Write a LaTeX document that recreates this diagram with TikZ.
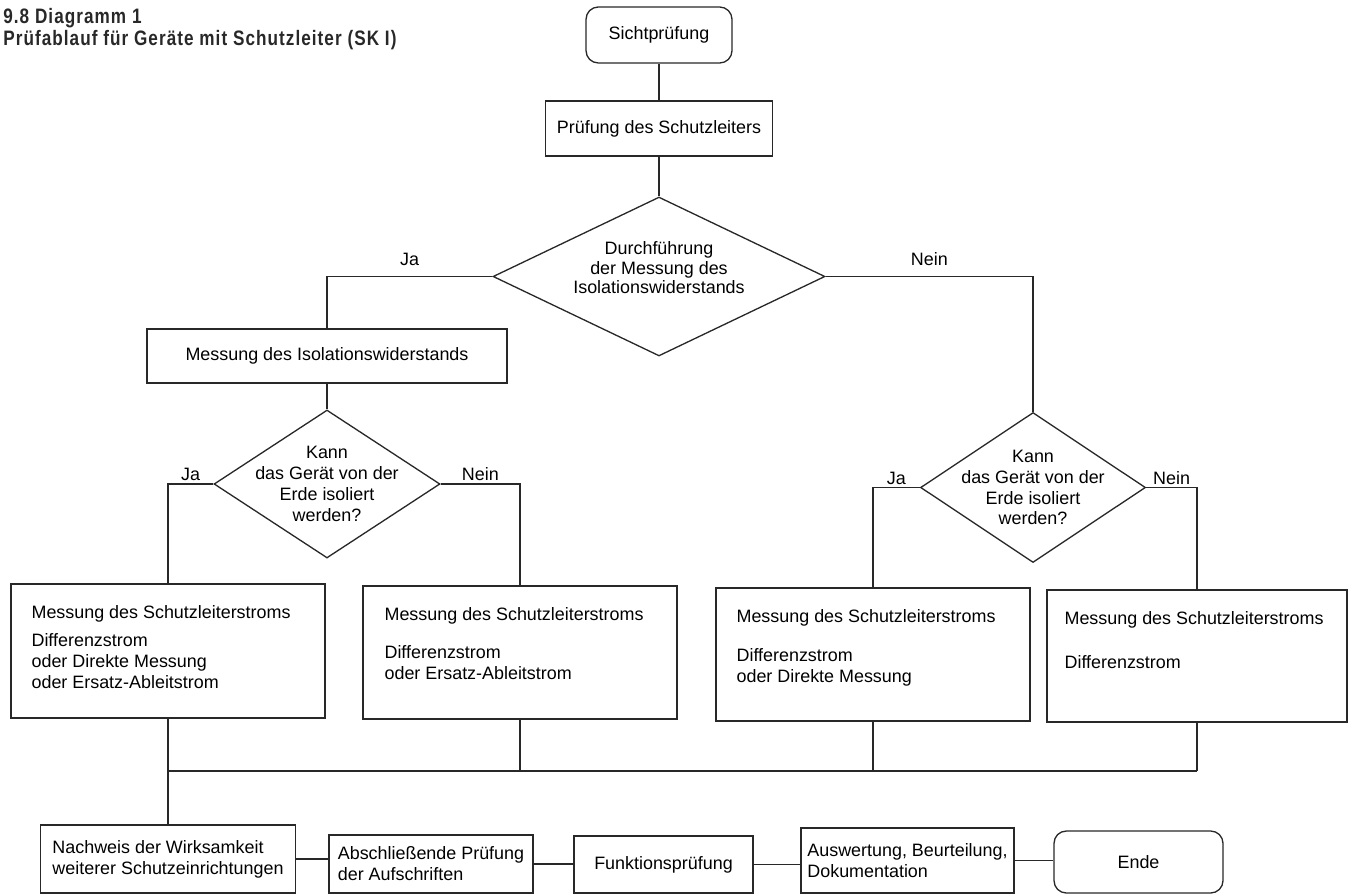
\documentclass[tikz,border=0pt]{standalone}
\usepackage{fontspec}
\setmainfont{Liberation Sans}
\newfontfamily\titlefont[FakeStretch=0.82, LetterSpace=5]{Liberation Sans}
\usetikzlibrary{shapes.geometric}

\begin{document}
\begin{tikzpicture}[x=0.02cm, y=-0.02cm,
    every node/.style={font=\fontsize{10.2}{11.9}\selectfont},
    flowline/.style={draw=linegray, line width=0.75pt},
    pbox/.style={draw=linegray, line width=0.75pt, rectangle, inner sep=0pt},
    rbox/.style={pbox, rounded corners=7pt},
    dbox/.style={draw=linegray, line width=0.75pt, diamond, inner sep=0pt},
    yn/.style={inner sep=0pt}]
    % Define colors
    \definecolor{linegray}{RGB}{40,40,40}

    \useasboundingbox (0,0) rectangle (1349,895);

    % Title
    \node[anchor=north west, align=left, inner sep=0pt, text=linegray,
          font=\titlefont\bfseries\fontsize{11.9}{12.5}\selectfont] (titel) at (3,8)
        {9.8 Diagramm 1\\Prüfablauf für Geräte mit Schutzleiter (SK I)};

    % Upper part
    \node[rbox, minimum width=2.92cm, minimum height=1.12cm] (sicht) at (659,35) {Sichtprüfung};
    \node[pbox, minimum width=4.54cm, minimum height=1.10cm] (schutz) at (659,128.5) {Prüfung des Schutzleiters};
    \node[dbox, minimum width=6.64cm, minimum height=3.18cm,
          label={[align=center, yshift=5pt, font=\fontsize{10.2}{11}\selectfont]center:{Durchführung\\der Messung des\\Isolationswiderstands}}]
        (isofrage) at (659,276.5) {};
    \node[pbox, minimum width=7.2cm, minimum height=1.08cm] (isomess) at (327,356) {Messung des Isolationswiderstands};

    % Decisions
    \node[dbox, minimum width=4.52cm, minimum height=2.96cm,
          label={[align=center]center:{Kann\\das Gerät von der\\Erde isoliert\\werden?}}]
        (kann1) at (327,484) {};
    \node[dbox, minimum width=4.5cm, minimum height=3.0cm,
          label={[align=center]center:{Kann\\das Gerät von der\\Erde isoliert\\werden?}}]
        (kann2) at (1033,487.5) {};

    % Measurement boxes
    \node[pbox, minimum width=6.28cm, minimum height=2.68cm,
          label={[anchor=north west, align=left, xshift=0.3cm, yshift=-0.31cm]north west:{Messung des Schutzleiterstroms\\[4.5pt]Differenzstrom\\oder Direkte Messung\\oder Ersatz-Ableitstrom}}]
        (sk1) at (168,651) {};
    \node[pbox, minimum width=6.28cm, minimum height=2.66cm,
          label={[anchor=north west, align=left, xshift=0.32cm, yshift=-0.31cm]north west:{Messung des Schutzleiterstroms\\[10.2pt]Differenzstrom\\oder Ersatz-Ableitstrom}}]
        (sk2) at (520,652.5) {};
    \node[pbox, minimum width=6.28cm, minimum height=2.66cm,
          label={[anchor=north west, align=left, xshift=0.3cm, yshift=-0.31cm]north west:{Messung des Schutzleiterstroms\\[10.8pt]Differenzstrom\\oder Direkte Messung}}]
        (sk3) at (873,654.5) {};
    \node[pbox, minimum width=6.0cm, minimum height=2.64cm,
          label={[anchor=north west, align=left, xshift=0.24cm, yshift=-0.31cm]north west:{Messung des Schutzleiterstroms\\[13.6pt]Differenzstrom}}]
        (sk4) at (1197,656) {};

    % Bottom row
    \node[pbox, align=left, minimum width=5.1cm, minimum height=1.36cm] (nachweis) at (168,859)
        {Nachweis der Wirksamkeit\\weiterer Schutzeinrichtungen};
    \node[pbox, align=left, minimum width=4.08cm, minimum height=1.16cm] (abschl) at (431,864)
        {Abschließende Prüfung\\der Aufschriften};
    \node[pbox, minimum width=3.58cm, minimum height=1.14cm] (funktion) at (663.5,864.5) {Funktionsprüfung};
    \node[pbox, align=left, minimum width=4.26cm, minimum height=1.30cm] (auswert) at (907.5,860.5)
        {Auswertung, Beurteilung,\\Dokumentation};
    \node[rbox, minimum width=3.38cm, minimum height=1.24cm] (ende) at (1138.5,862) {Ende};

    % Connections
    \draw[flowline] (sicht) -- (schutz);
    \draw[flowline] (schutz) -- (isofrage.north);
    \draw[flowline] (isofrage.west) -- node[yn, above=6pt] {Ja} (isofrage.west -| isomess.north) -- (isomess.north);
    \draw[flowline] (isofrage.east) -- node[yn, above=6pt] {Nein} (isofrage.east -| kann2.north) -- (kann2.north);
    \draw[flowline] (isomess) -- (kann1.north);
    \draw[flowline] (kann1.west) -- node[yn, above=1.5pt] {Ja} (kann1.west -| sk1.north) -- (sk1.north);
    \draw[flowline] (kann1.east) -- node[yn, above=1.5pt] {Nein} (kann1.east -| sk2.north) -- (sk2.north);
    \draw[flowline] (kann2.west) -- node[yn, above=1.5pt] {Ja} (kann2.west -| sk3.north) -- (sk3.north);
    \draw[flowline] (kann2.east) -- node[yn, above=1.5pt] {Nein} (kann2.east -| sk4.north) -- (sk4.north);

    % Collecting line
    \coordinate (busL) at (168,771);
    \coordinate (busR) at (1197,771);
    \foreach \b in {sk1,sk2,sk3,sk4}
        \draw[flowline] (\b.south) -- (\b.south |- busL);
    \draw[flowline] (busL) -- (busR);
    \draw[flowline] (busL) -- (nachweis.north);
    \foreach \a/\b in {nachweis/abschl, abschl/funktion, funktion/auswert, auswert/ende}
        \draw[flowline] (\a.east) -- (\a.east -| \b.west);
\end{tikzpicture}
\end{document}
